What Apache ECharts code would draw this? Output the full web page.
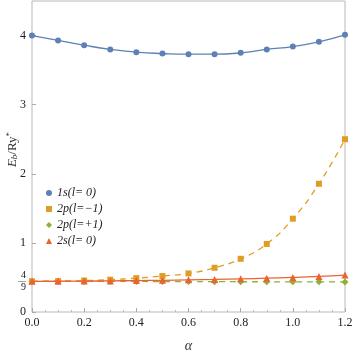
<!DOCTYPE html>
<html>
<head>
<meta charset="utf-8">
<script src="https://cdn.jsdelivr.net/npm/echarts@6/dist/echarts.min.js"></script>
<style>
  html, body { margin: 0; padding: 0; background: #fff; }
  #chart { width: 353px; height: 351px; }
</style>
</head>
<body>
<div id="chart"></div>
<script>
// alpha values
var alphas = [0.0, 0.1, 0.2, 0.3, 0.4, 0.5, 0.6, 0.7, 0.8, 0.9, 1.0, 1.1, 1.2];
// binding energies
var e1s = [4.00, 3.93, 3.86, 3.80, 3.76, 3.74, 3.73, 3.73, 3.75, 3.80, 3.84, 3.91, 4.01];
var e2pMinus = [0.444, 0.447, 0.455, 0.468, 0.49, 0.52, 0.558, 0.64, 0.77, 0.985, 1.35, 1.855, 2.50];
var e2pPlus = [0.444, 0.444, 0.443, 0.443, 0.442, 0.441, 0.44, 0.439, 0.438, 0.437, 0.436, 0.436, 0.435];
var e2s = [0.444, 0.445, 0.447, 0.450, 0.454, 0.459, 0.465, 0.472, 0.480, 0.489, 0.500, 0.515, 0.535];
var yTicks = [0, 4 / 9, 1, 2, 3, 4];

var names = ["1s(l= 0)", "2p(l=\u22121)", "2p(l=+1)", "2s(l= 0)"];
var colors = ["#5e81b5", "#e19c24", "#8fb032", "#eb6235"];

function pairs(ys) {
  return alphas.map(function (a, i) { return [a, ys[i]]; });
}

var serif = "Liberation Serif";
var chart = echarts.init(document.getElementById("chart"));

var option = {
  animation: false,
  color: colors,
  grid: {
    left: 32, right: 8, top: 1, bottom: 39,
    containLabel: false,
    outerBoundsMode: "none",
    show: true, borderColor: "#b8b8b8", borderWidth: 1
  },
  legend: {
    orient: "vertical",
    left: 41, top: 182,
    itemGap: 4,
    itemWidth: 6, itemHeight: 6,
    data: [
      { name: names[0], icon: "circle" },
      { name: names[1], icon: "rect" },
      { name: names[2], icon: "diamond" },
      { name: names[3], icon: "triangle" }
    ],
    textStyle: { fontFamily: serif, fontStyle: "italic", fontSize: 12, color: "#222" }
  },
  xAxis: {
    type: "value",
    min: 0, max: 1.2, interval: 0.2,
    name: "\u03b1",
    nameLocation: "middle",
    nameGap: 27,
    nameMoveOverlap: false,
    nameTextStyle: { fontFamily: serif, fontStyle: "italic", fontSize: 14, color: "#333" },
    axisLine: { show: false },
    axisTick: { show: true, inside: true, length: 4, lineStyle: { color: "#aaa" } },
    minorTick: { show: true, splitNumber: 4, length: 2, lineStyle: { color: "#bbb" } },
    splitLine: { show: false },
    axisLabel: {
      fontFamily: serif, fontSize: 12, color: "#222", margin: 5,
      formatter: function (v) { return v.toFixed(1); }
    }
  },
  yAxis: {
    type: "value",
    min: 0, max: 4.5,
    name: "{e|E}{b|b}{n|/Ry}{s|*}",
    nameLocation: "middle",
    nameGap: 12,
    nameRotate: 90,
    nameMoveOverlap: false,
    nameTextStyle: {
      fontFamily: serif, color: "#333",
      padding: [0, 0, 0, 14],
      rich: {
        e: { fontFamily: serif, fontStyle: "italic", fontSize: 13, color: "#333" },
        b: { fontFamily: serif, fontStyle: "italic", fontSize: 9, color: "#333", padding: [5, 0, 0, 0] },
        n: { fontFamily: serif, fontSize: 13, color: "#333" },
        s: { fontFamily: serif, fontSize: 9, color: "#333", padding: [0, 0, 6, 0] }
      }
    },
    axisLine: { show: false },
    splitLine: { show: false },
    axisTick: { show: true, inside: true, length: 4, customValues: yTicks, lineStyle: { color: "#aaa" } },
    axisLabel: {
      customValues: yTicks,
      fontFamily: serif, fontSize: 12, color: "#222", margin: 6,
      formatter: function (v) {
        if (Math.abs(v - 4 / 9) < 1e-6) return "{f|4}\n{l|\u2014}\n{f|9}";
        return String(Math.round(v));
      },
      rich: {
        f: { fontFamily: serif, fontSize: 10, lineHeight: 7, color: "#222" },
        l: { fontFamily: serif, fontSize: 8, lineHeight: 5, color: "#222" }
      }
    }
  },
  series: [
    {
      name: names[0], type: "line", data: pairs(e1s), smooth: true,
      symbol: "circle", symbolSize: 6,
      lineStyle: { width: 1.3, color: colors[0] },
      itemStyle: { color: colors[0] }, z: 4
    },
    {
      name: names[1], type: "line", data: pairs(e2pMinus), smooth: true,
      symbol: "rect", symbolSize: 6,
      lineStyle: { width: 1.3, type: [6, 5], color: colors[1] },
      itemStyle: { color: colors[1] }, z: 3
    },
    {
      name: names[2], type: "line", data: pairs(e2pPlus), smooth: true,
      symbol: "diamond", symbolSize: 7,
      lineStyle: { width: 1.3, type: [6, 5], color: colors[2] },
      itemStyle: { color: colors[2] }, z: 2
    },
    {
      name: names[3], type: "line", data: pairs(e2s), smooth: true,
      symbol: "triangle", symbolSize: 7,
      lineStyle: { width: 1.3, color: colors[3] },
      itemStyle: { color: colors[3] }, z: 5
    }
  ]
};
chart.setOption(option);
</script>
</body>
</html>
